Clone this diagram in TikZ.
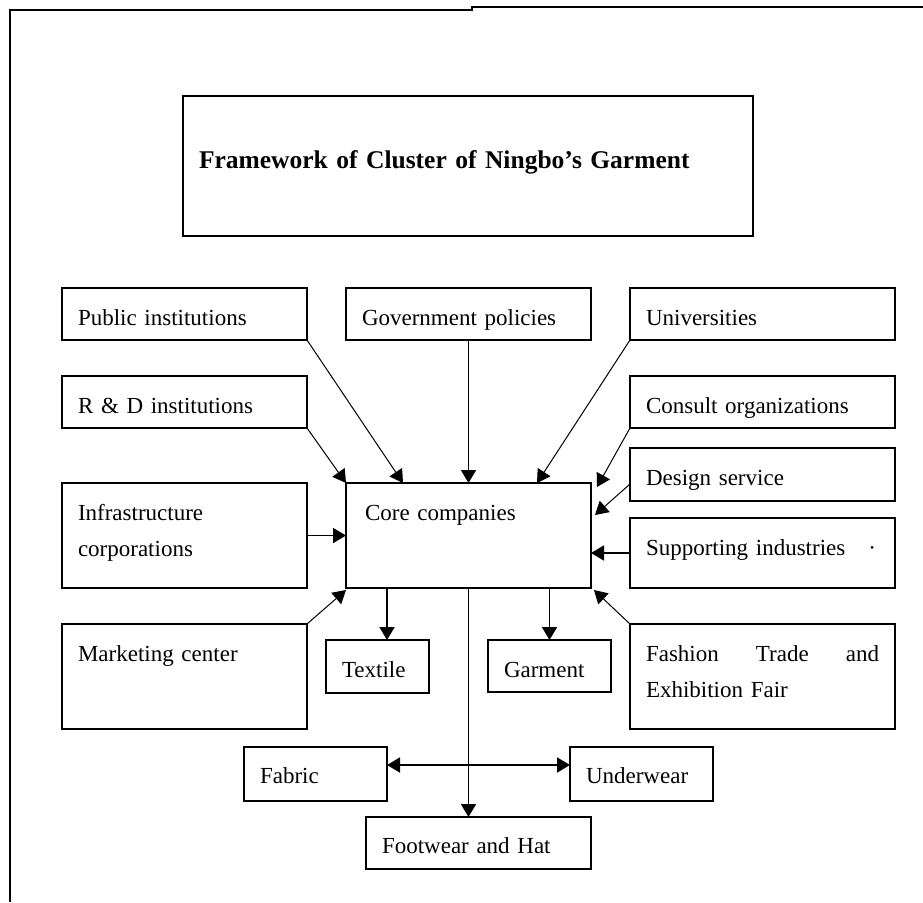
\documentclass[tikz,border=0pt]{standalone}
\usepackage{fontspec}
\setmainfont{Liberation Serif}
\usetikzlibrary{arrows.meta}
\begin{document}
\begin{tikzpicture}[x=1pt,y=-1pt,
  font=\fontsize{23}{36}\selectfont,
  box/.style={draw, line width=2pt, anchor=north west, outer sep=0pt,
    inner ysep=0pt, inner xsep=16pt, align=left, text height=37pt},
  headbox/.style={box, font=\fontsize{25.5}{30}\selectfont\bfseries, text height=72pt},
  frame/.style={line width=2.4pt},
  tipend/.style={-{Triangle[length=13pt,width=15pt]}},
  link/.style={tipend, line width=1.8pt},
  diag/.style={tipend, line width=1pt},
  twoway/.style={{Triangle[length=13pt,width=15pt]}-{Triangle[length=13pt,width=15pt]}, line width=1.8pt}
]
\useasboundingbox (0,0) rectangle (923,902);

% page frame
\draw[frame] (10,902) -- (10,10) -- (472,10) -- (472,7) -- (923,7);

% title
\node[headbox, text width=538pt, text depth=68pt] (title) at (183,96)
  {Framework of Cluster of Ningbo's Garment};

% surrounding actors
\node[box, text width=213pt, text depth=15pt] (pub)  at (62,288)  {Public institutions};
\node[box, text width=213pt, text depth=15pt] (gov)  at (346,288) {Government policies};
\node[box, text width=233pt, text depth=15pt] (uni)  at (630,288) {Universities};
\node[box, text width=213pt, text depth=15pt] (rnd)  at (62,376)  {R \& D institutions};
\node[box, text width=233pt, text depth=15pt] (cons) at (630,376) {Consult organizations};
\node[box, text width=233pt, text depth=16pt] (design) at (630,448) {Design service};
\node[box, text width=233pt, text depth=33pt] (supp) at (630,518) {Supporting industries\quad·};
\node[box, text width=213pt, text depth=68pt] (infra) at (62,483) {Infrastructure\\corporations};
\node[box, text width=207pt, text depth=68pt, inner xsep=19pt] (core) at (346,483) {Core companies};
\node[box, text width=213pt, text depth=68pt] (mkt)  at (62,624)  {Marketing center};
\node[box, text width=233pt, text depth=68pt] (fash) at (630,624)
  {Fashion\hfill Trade\hfill and\\Exhibition Fair};

% product boxes
\node[box, text width=71pt,  text depth=16pt] (tex)  at (326,640) {Textile};
\node[box, text width=91pt,  text depth=15pt] (gar)  at (488,640) {Garment};
\node[box, text width=111pt, text height=36pt, text depth=18pt] (fab) at (244,747) {Fabric};
\node[box, text width=111pt, text height=36pt, text depth=18pt] (und) at (570,747) {Underwear};
\node[box, text width=193pt, text height=36pt, text depth=16pt] (foot) at (366,817) {Footwear and Hat};

% influences on the core companies
\draw[link] (gov.south) -- (core.north);
\draw[diag] (pub.south east) -- ([xshift=57pt]core.north west);
\draw[diag] (rnd.south east) -- (core.north west);
\draw[diag] (uni.south west) -- ([xshift=-54pt]core.north east);
\draw[diag] (cons.south west) -- ([xshift=6pt,yshift=-4pt]core.north east);
\draw[diag] ([yshift=-36pt]design.north west) -- ([xshift=4pt,yshift=-32pt]core.north east);
\draw[link] (supp.west) -- (core.east |- supp.west);
\draw[diag] (fash.north west) -- ([xshift=3pt,yshift=-2pt]core.south east);
\draw[diag] (mkt.north east) -- ([yshift=-2pt]core.south west);
\draw[link] (infra.east) -- (core.west |- infra.east);

% outputs of the core companies
\draw[link] ([xshift=41pt]core.south west) -- ([xshift=41pt]core.south west |- tex.north);
\draw[link] (core.south -| gar.north) -- (gar.north);
\draw[link] (core.south) -- (core.south |- foot.north);
\draw[twoway] ([yshift=-18pt]fab.north east) -- ([yshift=-18pt]und.north west);
\end{tikzpicture}
\end{document}
